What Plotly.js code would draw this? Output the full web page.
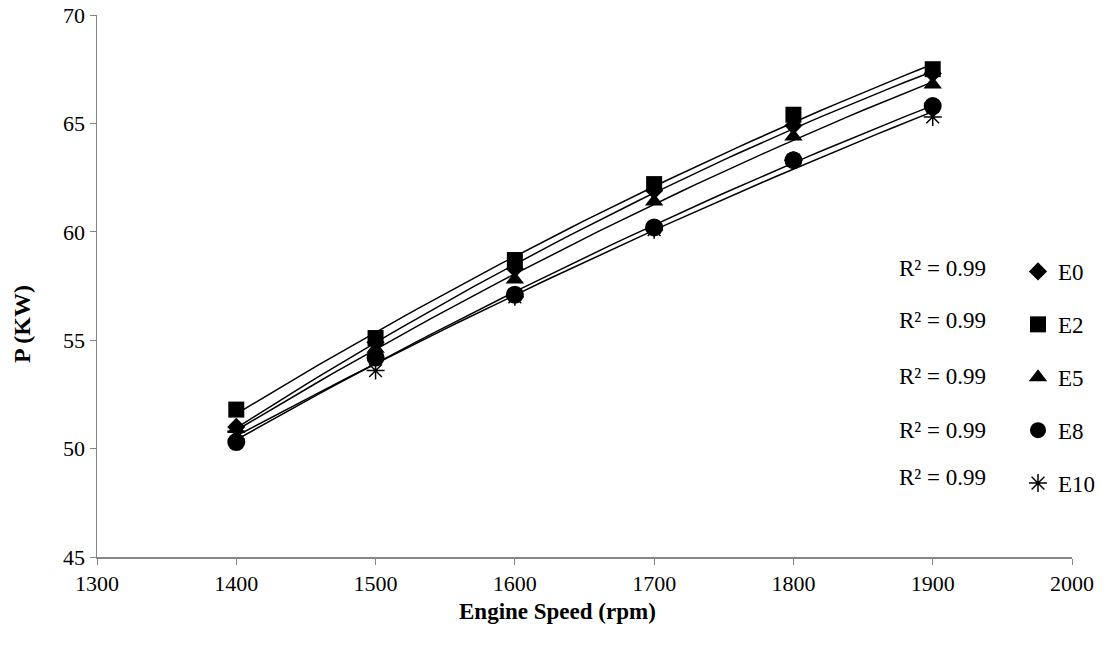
<!DOCTYPE html>
<html>
<head>
<meta charset="utf-8">
<script src="https://cdn.plot.ly/plotly-3.0.1.min.js"></script>
<style>html,body{margin:0;padding:0;background:#fff;}#chart{width:1107px;height:648px;}</style>
</head>
<body>
<div id="chart"></div>
<script>
const speed = [1400, 1500, 1600, 1700, 1800, 1900];
const E0  = [51.0, 54.9, 58.3, 61.9, 64.9, 67.3];
const E2  = [51.8, 55.1, 58.7, 62.2, 65.4, 67.5];
const E5  = [50.9, 54.6, 57.8, 61.4, 64.4, 66.8];
const E8  = [50.3, 54.2, 57.1, 60.2, 63.3, 65.8];
const E10 = [50.8, 53.6, 57.0, 60.1, 63.3, 65.3];
const seriesNames = ['E0', 'E2', 'E5', 'E8', 'E10'];
const r2Labels = ['R² = 0.99', 'R² = 0.99', 'R² = 0.99', 'R² = 0.99', 'R² = 0.99'];
const xTitle = 'Engine Speed (rpm)';
const yTitle = 'P (KW)';

const seriesData = [E0, E2, E5, E8, E10];
const symbols = ['diamond', 'square', 'triangle-up', 'circle', 'asterisk-open'];
const sizes = [14, 16, 16, 18, 15];
const serif = 'Liberation Serif, Times New Roman, serif';

// quadratic least squares fit (Excel-style polynomial trendline)
function polyfit2(xs, ys) {
  const n = xs.length;
  const x0 = 1650;
  let S = [0,0,0,0,0], T = [0,0,0];
  for (let i = 0; i < n; i++) {
    const x = (xs[i] - x0) / 100;
    let p = 1;
    for (let k = 0; k < 5; k++) { S[k] += p; p *= x; }
    p = 1;
    for (let k = 0; k < 3; k++) { T[k] += ys[i] * p; p *= x; }
  }
  const A = [[S[0],S[1],S[2],T[0]],[S[1],S[2],S[3],T[1]],[S[2],S[3],S[4],T[2]]];
  for (let c = 0; c < 3; c++) {
    for (let r = c + 1; r < 3; r++) {
      const f = A[r][c] / A[c][c];
      for (let k = c; k < 4; k++) A[r][k] -= f * A[c][k];
    }
  }
  const b = [0,0,0];
  for (let r = 2; r >= 0; r--) {
    let s = A[r][3];
    for (let k = r + 1; k < 3; k++) s -= A[r][k] * b[k];
    b[r] = s / A[r][r];
  }
  return x => { const t = (x - x0) / 100; return b[0] + b[1]*t + b[2]*t*t; };
}

const traces = [];
seriesData.forEach((ys, i) => {
  const f = polyfit2(speed, ys);
  const fx = [], fy = [];
  for (let x = speed[0]; x <= speed[speed.length-1]; x += 10) { fx.push(x); fy.push(f(x)); }
  traces.push({x: fx, y: fy, mode: 'lines', line: {color: '#000', width: 1.5}, showlegend: false, hoverinfo: 'skip'});
});
seriesData.forEach((ys, i) => {
  traces.push({
    x: speed, y: ys, mode: 'markers', name: seriesNames[i], legendgroup: 'g' + i,
    marker: {symbol: symbols[i], size: sizes[i], color: '#000', line: {color: '#000', width: i === 4 ? 1.5 : 0}}
  });
});

const PL = 97, PW = 975, PT = 15, PH = 542;
const r2Y = [268, 320, 377, 430, 477];
const annotations = r2Labels.map((t, i) => ({
  text: t, xref: 'paper', yref: 'paper', showarrow: false,
  x: (942 - PL) / PW, y: 1 - (r2Y[i] - PT) / PH, xanchor: 'center', yanchor: 'middle',
  font: {family: serif, size: 23, color: '#000'}
}));
annotations.push({
  text: '<b>' + xTitle + '</b>', xref: 'paper', yref: 'paper', showarrow: false,
  x: (557 - PL) / PW, y: 1 - (611 - PT) / PH, xanchor: 'center', yanchor: 'middle',
  font: {family: serif, size: 23, color: '#000'}
});
annotations.push({
  text: '<b>' + yTitle + '</b>', xref: 'paper', yref: 'paper', showarrow: false, textangle: -90,
  x: (22 - PL) / PW, y: 1 - (324 - PT) / PH, xanchor: 'center', yanchor: 'middle',
  font: {family: serif, size: 24, color: '#000'}
});

const layout = {
  width: 1107, height: 648,
  margin: {l: PL, r: 1107 - PL - PW, t: PT, b: 648 - PT - PH, autoexpand: false},
  paper_bgcolor: '#fff', plot_bgcolor: '#fff',
  font: {family: serif, size: 22, color: '#000'},
  xaxis: {
    range: [1300, 2000], dtick: 100, showgrid: false, zeroline: false, automargin: false,
    showline: true, linecolor: '#868686', linewidth: 1.5, ticks: 'outside', tickcolor: '#868686', ticklen: 6,
    tickfont: {family: serif, size: 22, color: '#000'}
  },
  yaxis: {
    range: [45, 70], dtick: 5, showgrid: false, zeroline: false, automargin: false,
    showline: true, linecolor: '#868686', linewidth: 1.5, ticks: 'outside', tickcolor: '#868686', ticklen: 6,
    tickfont: {family: serif, size: 22, color: '#000'}
  },
  legend: {
    x: (1018 - PL) / PW, y: 1 - (250 - PT) / PH, xanchor: 'left', yanchor: 'top',
    bgcolor: 'rgba(0,0,0,0)', tracegroupgap: 20, itemwidth: 30,
    font: {family: serif, size: 23, color: '#000'}
  },
  annotations: annotations
};

Plotly.newPlot('chart', traces, layout, {displayModeBar: false, staticPlot: true});
</script>
</body>
</html>
